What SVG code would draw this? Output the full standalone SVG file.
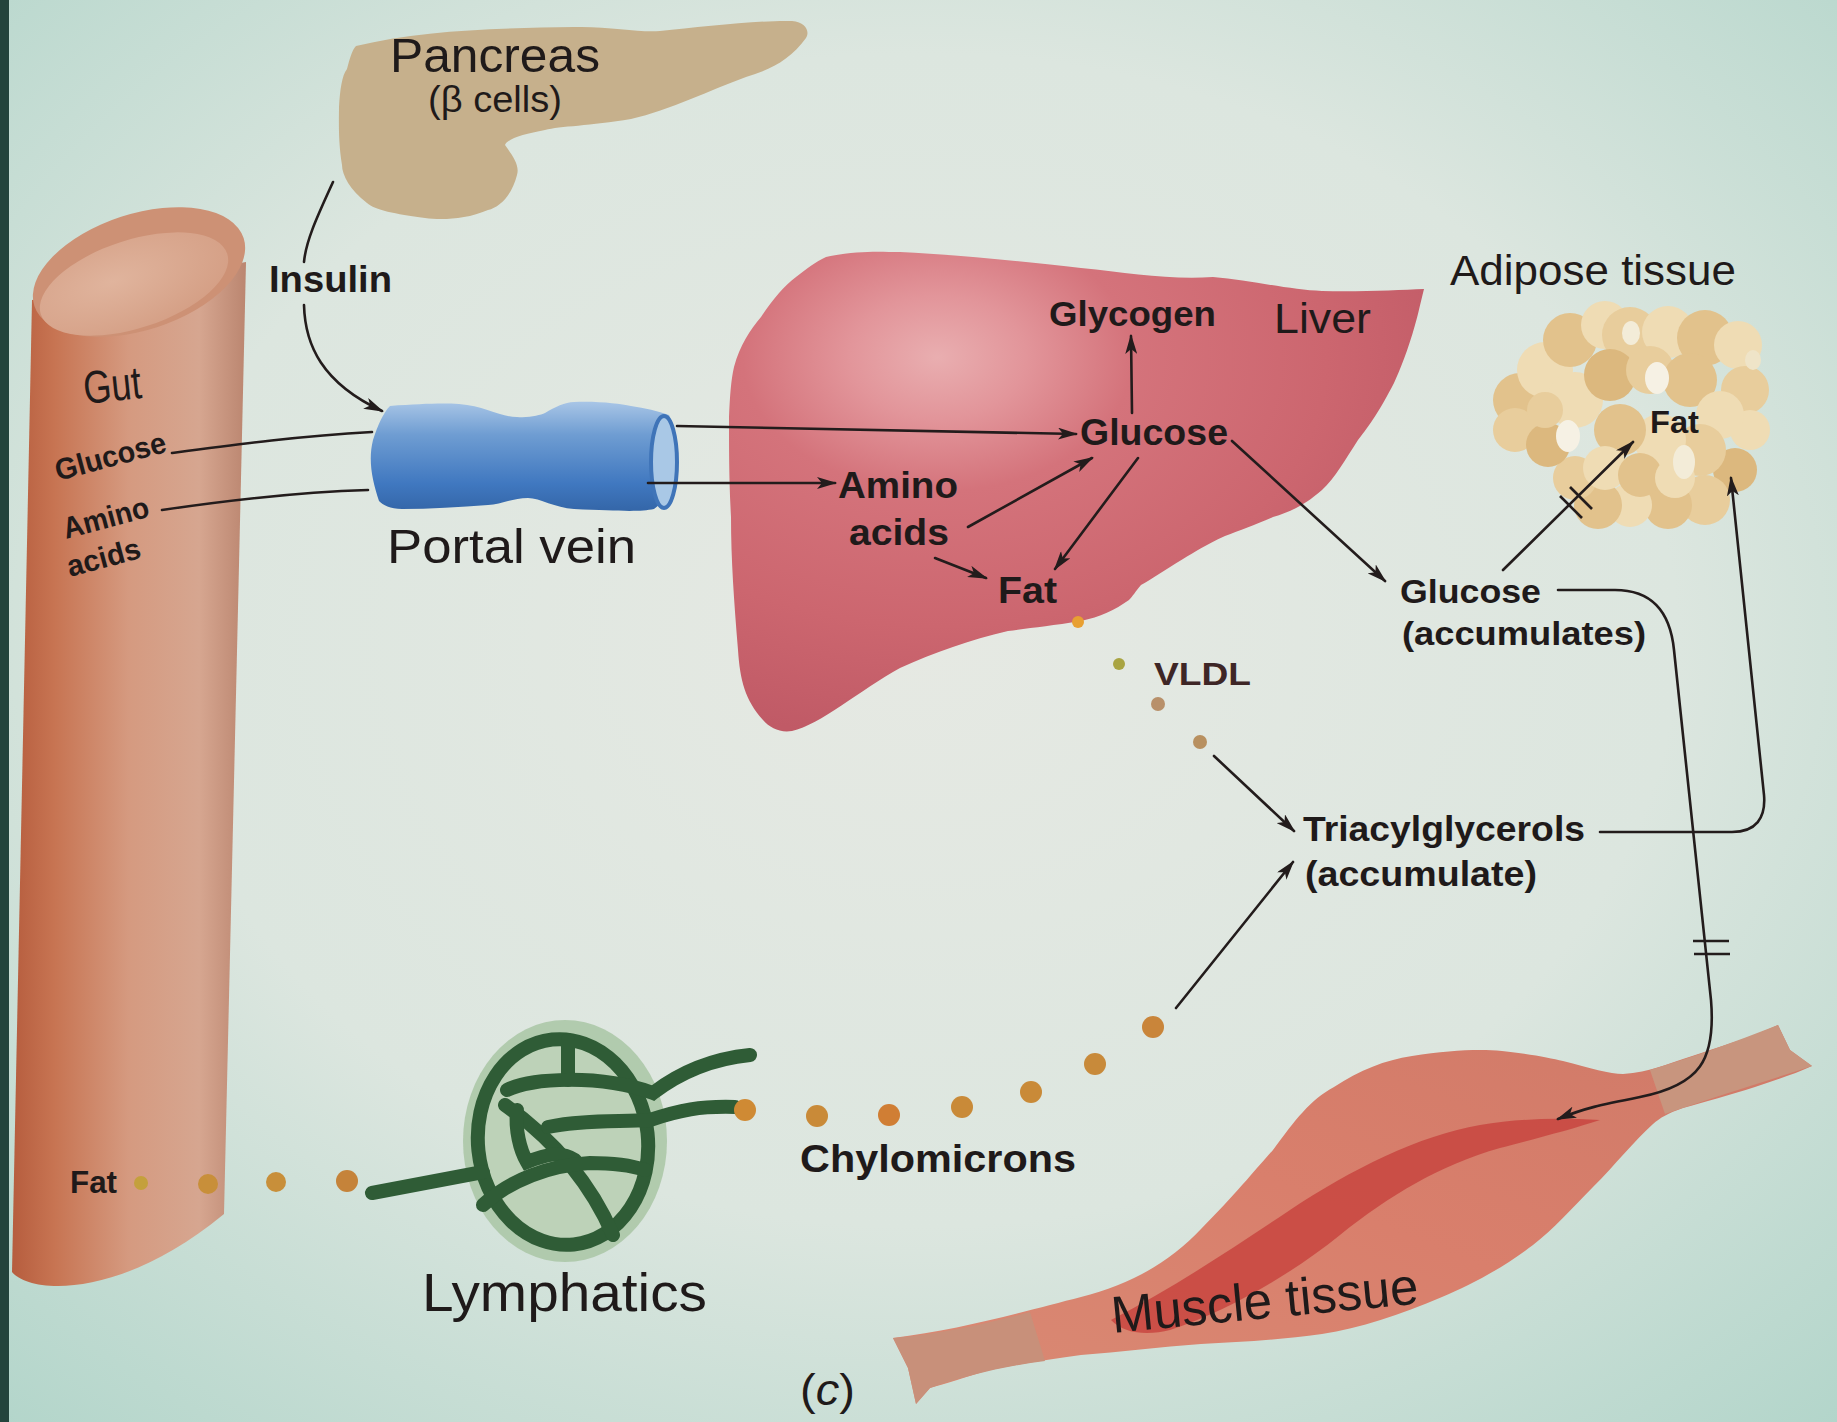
<svg xmlns="http://www.w3.org/2000/svg" width="1837" height="1422" viewBox="0 0 1837 1422">
  <style>
    .t { font-family: "Liberation Sans", Arial, sans-serif; fill: #1f1a1a; }
    .b { font-weight: bold; }
    .ln { fill: none; stroke: #231c1c; stroke-width: 2.6; stroke-linecap: round; }
    .arr { marker-end: url(#ah); }
    .tick { stroke: #231c1c; stroke-width: 2.6; }
    .strand { fill: none; stroke: #2f5c36; stroke-width: 14; stroke-linecap: round; }
    .c1 { fill: #efdcb4; }
    .c2 { fill: #e8cd9c; }
    .c3 { fill: #e2c28c; }
    .c4 { fill: #dcb87e; }
  </style>
  <defs>
    <radialGradient id="bg" cx="50%" cy="45%" r="75%">
      <stop offset="0" stop-color="#e6e9e3"/>
      <stop offset="0.55" stop-color="#dce6df"/>
      <stop offset="1" stop-color="#b2d5ca"/>
    </radialGradient>
    <linearGradient id="gutG" x1="0" y1="0" x2="1" y2="0">
      <stop offset="0" stop-color="#b65d3e"/>
      <stop offset="0.18" stop-color="#c77452"/>
      <stop offset="0.5" stop-color="#d59a80"/>
      <stop offset="0.8" stop-color="#d6a690"/>
      <stop offset="1" stop-color="#bb8670"/>
    </linearGradient>
    <radialGradient id="gutTop" cx="40%" cy="40%" r="70%">
      <stop offset="0" stop-color="#e0b49d"/>
      <stop offset="1" stop-color="#d49e84"/>
    </radialGradient>
    <radialGradient id="liverG" cx="0.3" cy="0.22" r="0.8">
      <stop offset="0" stop-color="#e9aeb0"/>
      <stop offset="0.16" stop-color="#e2959a"/>
      <stop offset="0.35" stop-color="#d4737b"/>
      <stop offset="0.7" stop-color="#cc666f"/>
      <stop offset="1" stop-color="#c05a66"/>
    </radialGradient>
    <linearGradient id="veinG" x1="0" y1="0" x2="0" y2="1">
      <stop offset="0" stop-color="#a8c5e6"/>
      <stop offset="0.3" stop-color="#6f9dd2"/>
      <stop offset="0.75" stop-color="#4078c0"/>
      <stop offset="1" stop-color="#3466a8"/>
    </linearGradient>
    <linearGradient id="muscleG" x1="0" y1="1" x2="1" y2="0">
      <stop offset="0" stop-color="#d98a74"/>
      <stop offset="0.5" stop-color="#d97f6c"/>
      <stop offset="1" stop-color="#cf7a68"/>
    </linearGradient>
    <marker id="ah" viewBox="0 0 20 12" refX="18" refY="6" markerWidth="20" markerHeight="12" markerUnits="userSpaceOnUse" orient="auto">
      <path d="M0,0 L20,6 L0,12 L5,6 Z" fill="#231c1c"/>
    </marker>
  </defs>

  <!-- page background -->
  <rect x="0" y="0" width="1837" height="1422" fill="url(#bg)"/>
  <rect x="0" y="0" width="9" height="1422" fill="#23443c"/>

  <!-- Pancreas -->
  <g id="pancreas">
    <path d="M356,46 C420,30 500,28 574,27 C610,26 640,33 660,31 C700,27 760,20 792,21 C806,22 810,32 806,38 C790,60 770,70 746,77 C710,90 670,110 631,119 C590,126 560,126 545,130 C525,134 508,138 505,145 C512,155 520,165 517,175 C512,195 500,207 488,210 C465,220 440,220 425,218 C395,214 375,210 367,203 C350,190 342,175 342,165 C338,140 339,120 339,107 C340,90 342,75 347,69 C350,58 352,50 356,46 Z" fill="#c6b08c"/>
    <text class="t" x="390" y="72" font-size="48" textLength="210" lengthAdjust="spacingAndGlyphs">Pancreas</text>
    <text class="t" x="428" y="112" font-size="36" textLength="134" lengthAdjust="spacingAndGlyphs">(β cells)</text>
  </g>

  <!-- Gut -->
  <g id="gut">
    <path d="M32,300 L12,1272 C30,1294 120,1300 224,1214 L246,262 Z" fill="url(#gutG)"/>
    <ellipse cx="139" cy="272" rx="110" ry="58" transform="rotate(-18 139 272)" fill="#cd9175"/>
    <ellipse cx="134" cy="284" rx="98" ry="44" transform="rotate(-18 134 284)" fill="url(#gutTop)"/>
    <text class="t" x="85" y="404" font-size="46" textLength="58" lengthAdjust="spacingAndGlyphs" transform="rotate(-6 85 404)">Gut</text>
    <text class="t b" x="58" y="481" font-size="30" textLength="114" lengthAdjust="spacingAndGlyphs" transform="rotate(-15 58 481)">Glucose</text>
    <text class="t b" x="66" y="539" font-size="30" textLength="88" lengthAdjust="spacingAndGlyphs" transform="rotate(-15 66 539)">Amino</text>
    <text class="t b" x="70" y="577" font-size="30" textLength="75" lengthAdjust="spacingAndGlyphs" transform="rotate(-15 70 577)">acids</text>
    <text class="t b" x="70" y="1193" font-size="32" textLength="47" lengthAdjust="spacingAndGlyphs">Fat</text>
  </g>

  <!-- Portal vein -->
  <g id="portal-vein">
    <path d="M390,406 C420,404 440,403 459,404 C485,406 500,417 517,417 C530,418 540,415 545,413 C555,407 565,402 574,402 C600,401 620,404 631,406 C645,408 658,411 669,415 C681,440 681,490 654,509 C640,512 620,511 574,509 C555,508 540,498 528,498 C512,498 500,505 488,505 C460,507 430,509 402,509 C390,509 383,505 379,501 C372,480 368,460 373,440 C378,425 383,413 390,406 Z" fill="url(#veinG)"/>
    <ellipse cx="664" cy="462" rx="13" ry="46" fill="#a9c8e6" stroke="#3f74b8" stroke-width="4"/>
    <text class="t" x="387" y="563" font-size="48" textLength="249" lengthAdjust="spacingAndGlyphs">Portal vein</text>
  </g>

  <!-- Liver -->
  <g id="liver">
    <path d="M826,257 C860,250 880,252 900,252 C960,255 1030,262 1081,268 C1130,273 1170,280 1213,277 C1250,280 1290,290 1322,291 C1360,292 1400,290 1424,289 C1420,305 1418,315 1415,325 C1408,350 1400,370 1394,383 C1380,410 1370,425 1358,440 C1345,460 1335,478 1322,490 C1305,505 1290,512 1273,517 C1255,525 1240,530 1225,536 C1205,545 1195,552 1183,559 C1165,570 1150,580 1141,585 C1135,592 1133,596 1129,600 C1115,610 1100,617 1081,621 C1050,626 1030,628 1008,631 C970,640 935,652 900,668 C860,690 820,725 792,731 C780,733 770,728 763,720 C745,700 740,680 738,650 C734,600 731,560 731,517 C729,480 729,450 729,417 C730,395 731,380 734,367 C740,345 750,330 761,317 C772,300 785,285 796,277 C808,268 815,262 826,257 Z" fill="url(#liverG)"/>
    <text class="t b" x="1049" y="326" font-size="35" textLength="167" lengthAdjust="spacingAndGlyphs">Glycogen</text>
    <text class="t" x="1274" y="333" font-size="43" textLength="97" lengthAdjust="spacingAndGlyphs">Liver</text>
    <text class="t b" x="1080" y="445" font-size="37" textLength="148" lengthAdjust="spacingAndGlyphs">Glucose</text>
    <text class="t b" x="838" y="498" font-size="37" textLength="120" lengthAdjust="spacingAndGlyphs">Amino</text>
    <text class="t b" x="849" y="545" font-size="37" textLength="100" lengthAdjust="spacingAndGlyphs">acids</text>
    <text class="t b" x="998" y="603" font-size="37" textLength="59" lengthAdjust="spacingAndGlyphs">Fat</text>
  </g>

  <!-- Adipose tissue: clustered fat cells -->
  <g id="adipose">
    <text class="t" x="1450" y="285" font-size="43" textLength="286" lengthAdjust="spacingAndGlyphs">Adipose tissue</text>
    <g>
      <circle class="c3" cx="1520" cy="400" r="27"/>
      <circle class="c2" cx="1515" cy="430" r="22"/>
      <circle class="c1" cx="1545" cy="370" r="28"/>
      <circle class="c3" cx="1570" cy="340" r="27"/>
      <circle class="c1" cx="1605" cy="325" r="24"/>
      <circle class="c2" cx="1630" cy="335" r="28"/>
      <circle class="c1" cx="1668" cy="332" r="26"/>
      <circle class="c3" cx="1705" cy="338" r="28"/>
      <circle class="c1" cx="1738" cy="345" r="24"/>
      <circle class="c2" cx="1745" cy="390" r="24"/>
      <circle class="c1" cx="1750" cy="430" r="20"/>
      <circle class="c4" cx="1735" cy="470" r="22"/>
      <circle class="c2" cx="1705" cy="500" r="25"/>
      <circle class="c3" cx="1668" cy="505" r="24"/>
      <circle class="c1" cx="1630" cy="505" r="22"/>
      <circle class="c3" cx="1598" cy="505" r="24"/>
      <circle class="c2" cx="1575" cy="478" r="22"/>
      <circle class="c4" cx="1548" cy="445" r="22"/>
      <circle class="c1" cx="1575" cy="400" r="28"/>
      <circle class="c4" cx="1610" cy="375" r="26"/>
      <circle class="c2" cx="1650" cy="370" r="24"/>
      <circle class="c3" cx="1690" cy="380" r="27"/>
      <circle class="c1" cx="1720" cy="415" r="24"/>
      <circle class="c2" cx="1700" cy="450" r="26"/>
      <circle class="c1" cx="1660" cy="440" r="26"/>
      <circle class="c3" cx="1620" cy="430" r="26"/>
      <circle class="c1" cx="1605" cy="468" r="22"/>
      <circle class="c3" cx="1640" cy="475" r="22"/>
      <circle class="c1" cx="1675" cy="478" r="20"/>
      <circle class="c2" cx="1545" cy="410" r="18"/>
      <ellipse cx="1657" cy="378" rx="12" ry="16" fill="#f6f1e4"/>
      <ellipse cx="1568" cy="436" rx="12" ry="16" fill="#f6f1e4"/>
      <ellipse cx="1684" cy="462" rx="11" ry="17" fill="#f3ecd8"/>
      <ellipse cx="1631" cy="333" rx="9" ry="12" fill="#f3ecd8"/>
      <ellipse cx="1753" cy="360" rx="8" ry="10" fill="#efe4c8"/>
    </g>
    <text class="t b" x="1650" y="433" font-size="31" textLength="49" lengthAdjust="spacingAndGlyphs">Fat</text>
  </g>

  <!-- Lymphatics -->
  <g id="lymphatics">
    <ellipse cx="565" cy="1141" rx="102" ry="121" fill="#a9c6a5" opacity="0.85"/>
    <ellipse cx="563" cy="1142" rx="85" ry="103" fill="#bdd2b8" stroke="#2f5c36" stroke-width="14" transform="rotate(-6 563 1142)"/>
    <path class="strand" d="M568,1040 L568,1080"/>
    <path class="strand" d="M507,1090 C530,1078 600,1074 653,1093 C670,1080 700,1060 750,1055"/>
    <path class="strand" d="M505,1105 C540,1130 585,1170 613,1235"/>
    <path class="strand" d="M517,1110 C515,1130 520,1150 527,1162 C545,1155 560,1150 575,1160"/>
    <path class="strand" d="M548,1127 C580,1120 620,1122 650,1120 C680,1110 700,1106 735,1107"/>
    <path class="strand" d="M483,1205 C510,1180 550,1165 590,1163 C610,1163 630,1165 645,1170"/>
    <path class="strand" d="M483,1172 C460,1176 430,1182 372,1193"/>
    <text class="t" x="422" y="1311" font-size="53" textLength="285" lengthAdjust="spacingAndGlyphs">Lymphatics</text>
  </g>

  <!-- Muscle tissue -->
  <g id="muscle">
    <path d="M893,1338 C960,1330 1030,1310 1081,1297 C1130,1285 1170,1262 1201,1229 C1235,1195 1255,1170 1273,1150 C1295,1120 1310,1100 1334,1087 C1360,1070 1385,1060 1412,1056 C1450,1050 1480,1049 1502,1051 C1530,1054 1550,1058 1563,1061 C1590,1068 1610,1074 1623,1074 C1650,1072 1670,1063 1683,1059 C1710,1050 1735,1042 1755,1035 L1778,1025 L1790,1050 L1812,1066 C1795,1074 1775,1080 1755,1087 C1730,1095 1705,1102 1683,1108 C1668,1113 1660,1118 1653,1124 C1635,1140 1615,1165 1593,1187 C1570,1210 1555,1228 1533,1245 C1500,1270 1470,1285 1442,1297 C1400,1315 1360,1328 1322,1334 C1280,1340 1240,1342 1201,1344 C1160,1347 1120,1352 1081,1355 C1045,1360 1015,1365 990,1370 C965,1377 945,1384 930,1388 L916,1404 L908,1368 Z" fill="url(#muscleG)"/>
    <path d="M1111,1320 C1170,1290 1230,1250 1290,1210 C1350,1170 1420,1135 1480,1125 C1520,1118 1560,1118 1600,1120 C1570,1130 1530,1140 1500,1148 C1440,1165 1390,1195 1340,1235 C1290,1275 1230,1310 1170,1330 C1150,1335 1125,1335 1111,1320 Z" fill="#c8453f" opacity="0.85"/>
    <path d="M1650,1070 C1690,1058 1735,1042 1778,1025 L1790,1050 L1812,1066 C1770,1080 1720,1095 1665,1114 Z" fill="#c8957e"/>
    <path d="M893,1338 C940,1334 985,1324 1030,1312 L1045,1361 C1005,1366 965,1376 930,1388 L916,1404 L908,1368 Z" fill="#c8907a"/>
    <text class="t" x="1113" y="1333" font-size="52" textLength="308" lengthAdjust="spacingAndGlyphs" transform="rotate(-5.5 1113 1333)">Muscle tissue</text>
  </g>

  <!-- free-standing labels -->
  <g id="labels">
    <text class="t b" x="269" y="292" font-size="37" textLength="123" lengthAdjust="spacingAndGlyphs">Insulin</text>
    <text class="t b" x="1400" y="603" font-size="34" textLength="141" lengthAdjust="spacingAndGlyphs">Glucose</text>
    <text class="t b" x="1402" y="645" font-size="34" textLength="244" lengthAdjust="spacingAndGlyphs">(accumulates)</text>
    <text class="t b" x="1154" y="685" font-size="32" textLength="97" lengthAdjust="spacingAndGlyphs" style="fill:#3e2626">VLDL</text>
    <text class="t b" x="1303" y="841" font-size="35" textLength="282" lengthAdjust="spacingAndGlyphs">Triacylglycerols</text>
    <text class="t b" x="1305" y="886" font-size="35" textLength="232" lengthAdjust="spacingAndGlyphs">(accumulate)</text>
    <text class="t b" x="800" y="1172" font-size="38" textLength="276" lengthAdjust="spacingAndGlyphs">Chylomicrons</text>
    <text class="t" x="800" y="1405" font-size="45" textLength="55" lengthAdjust="spacingAndGlyphs">(<tspan font-style="italic">c</tspan>)</text>
  </g>

  <!-- lipoprotein particles -->
  <g id="particles">
    <circle cx="1078" cy="622" r="6" fill="#e8a032"/>
    <circle cx="1119" cy="664" r="6" fill="#a9a442"/>
    <circle cx="1158" cy="704" r="7" fill="#b8906a"/>
    <circle cx="1200" cy="742" r="7" fill="#b89060"/>
    <circle cx="141" cy="1183" r="7" fill="#c4a03c"/>
    <circle cx="208" cy="1184" r="10" fill="#c88f3a"/>
    <circle cx="276" cy="1182" r="10" fill="#c88f3a"/>
    <circle cx="347" cy="1181" r="11" fill="#c5833a"/>
    <circle cx="745" cy="1110" r="11" fill="#cf8a34"/>
    <circle cx="817" cy="1116" r="11" fill="#c98a38"/>
    <circle cx="889" cy="1115" r="11" fill="#d07e34"/>
    <circle cx="962" cy="1107" r="11" fill="#c98a38"/>
    <circle cx="1031" cy="1092" r="11" fill="#c98a38"/>
    <circle cx="1095" cy="1064" r="11" fill="#c88a3a"/>
    <circle cx="1153" cy="1027" r="11" fill="#c9853a"/>
  </g>

  <!-- connectors -->
  <g id="connectors">
    <path class="ln" d="M333,182 C318,215 306,240 304,262"/>
    <path class="ln arr" d="M304,305 C305,345 322,383 382,411"/>
    <path class="ln" d="M172,453 C240,444 300,436 372,432"/>
    <path class="ln" d="M162,510 C230,500 300,492 368,490"/>
    <path class="ln arr" d="M677,426 L1076,434"/>
    <path class="ln arr" d="M648,483 L835,483"/>
    <path class="ln arr" d="M1132,413 L1131,336"/>
    <path class="ln arr" d="M968,527 L1092,458"/>
    <path class="ln arr" d="M1138,458 L1055,569"/>
    <path class="ln arr" d="M935,558 L986,578"/>
    <path class="ln arr" d="M1232,441 L1385,581"/>
    <path class="ln arr" d="M1503,570 L1633,442"/>
    <line class="tick" x1="1560" y1="496" x2="1582" y2="518"/>
    <line class="tick" x1="1570" y1="487" x2="1592" y2="509"/>
    <path class="ln arr" d="M1558,590 L1615,590 C1650,590 1670,610 1674,650 L1711,1000 C1716,1060 1700,1085 1640,1097 C1600,1105 1585,1108 1558,1119"/>
    <line class="tick" x1="1693" y1="941" x2="1729" y2="941"/>
    <line class="tick" x1="1694" y1="954" x2="1730" y2="954"/>
    <path class="ln arr" d="M1600,832 L1732,832 C1756,832 1766,818 1764,795 L1731,478"/>
    <path class="ln arr" d="M1214,756 L1294,831"/>
    <path class="ln arr" d="M1176,1008 L1293,862"/>
  </g>
</svg>
